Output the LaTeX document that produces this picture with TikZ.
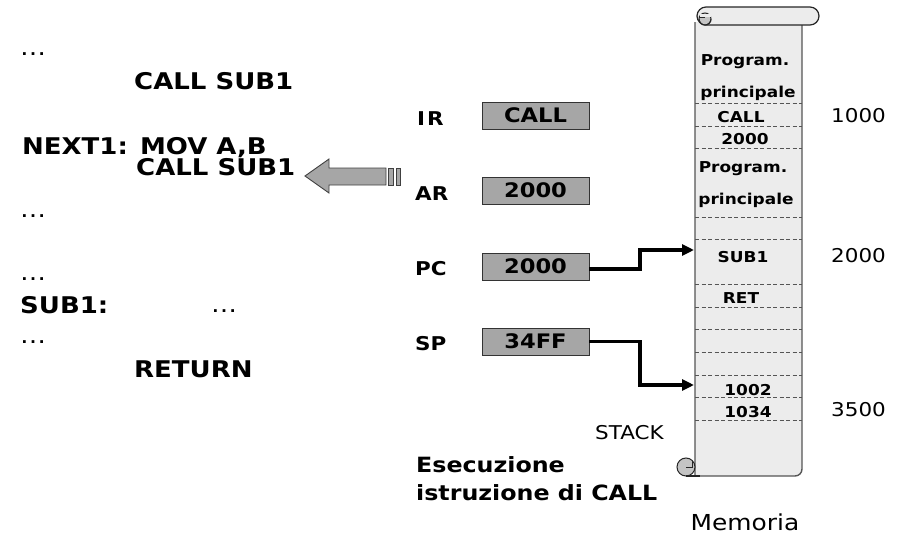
\documentclass[tikz,border=0pt]{standalone}
\usepackage{fontspec}
\setmainfont{DejaVu Sans}[FakeStretch=1.13]
\usetikzlibrary{arrows.meta}
\definecolor{regfill}{HTML}{A6A6A6}
\definecolor{scrollfill}{HTML}{ECECEC}
\definecolor{curlfill}{HTML}{C4C4C4}
\definecolor{edge}{HTML}{555555}
\tikzset{
  code/.style={font=\bfseries\fontsize{23}{23}\selectfont, anchor=base west, inner sep=0pt},
  dots/.style={font=\fontsize{23}{23}\selectfont, anchor=base west, inner sep=0pt},
  reglabel/.style={font=\bfseries\fontsize{19}{19}\selectfont, anchor=base west, inner sep=0pt},
  regbox/.style={draw=black!80, line width=0.9pt, fill=regfill, minimum width=107pt, minimum height=27pt, inner sep=0pt, font=\bfseries\fontsize{20}{20}\selectfont},
  memtext/.style={font=\bfseries\fontsize{15}{15}\selectfont, anchor=base, inner sep=0pt},
  addr/.style={font=\fontsize{19}{19}\selectfont, anchor=base west, inner sep=0pt},
  conn/.style={line width=3.3pt, -{Triangle[length=12pt,width=11pt]}},
  dline/.style={edge, line width=0.7pt, dash pattern=on 4pt off 2.5pt},
}
\begin{document}
\begin{tikzpicture}[x=1pt,y=-1pt]
\useasboundingbox (0,0) rectangle (906,538);

% ---- code listing on the left
\node[dots] (d1) at (20,56) {…};
\node[code] (c1) at (134,89) {CALL SUB1};
\node[code] (c2) at (22,154) {NEXT1: MOV A,B};
\node[code] (c3) at (136,175) {CALL SUB1};
\node[dots] (d2) at (20,217) {…};
\node[dots] (d3) at (20,280) {…};
\node[code] (c4) at (20,313) {SUB1:};
\node[dots] (d4) at (211,312) {…};
\node[dots] (d5) at (20,343) {…};
\node[code] (c5) at (134,377) {RETURN};

% ---- big grey arrow
\filldraw[fill=regfill, draw=black!75, line width=0.9pt]
  (305,176) -- (329,159) -- (329,168) -- (386,168) -- (386,185) -- (329,185) -- (329,193) -- cycle;
\filldraw[fill=regfill, draw=black!75, line width=0.9pt] (388.5,168) rectangle (393,185);
\filldraw[fill=regfill, draw=black!75, line width=0.9pt] (396,168) rectangle (400,185);

% ---- registers
\node[reglabel] (irl) at (417,125) {I\kern2pt R};
\node[reglabel] (arl) at (415,200) {AR};
\node[reglabel] (pcl) at (415,275) {PC};
\node[reglabel] (spl) at (415,350) {SP};
\node[regbox] (ir) at (535.5,115.5) {CALL};
\node[regbox] (ar) at (535.5,190.5) {2000};
\node[regbox] (pc) at (535.5,266.5) {2000};
\node[regbox] (sp) at (535.5,341.5) {34FF};

% ---- memory scroll
\filldraw[fill=scrollfill, draw=edge, line width=1.4pt]
  (695,22) -- (695,476) [rounded corners=7pt] -- (802,476) [sharp corners] -- (802,22);
\fill[scrollfill] (696,22) rectangle (801,30);
\foreach \yy in {103,126,148,217,239,284,307,329,352,375,397,420}
  \draw[dline] (695,\yy) -- (802,\yy);
% bottom curl
\filldraw[fill=curlfill, draw=black!85, line width=1pt] (686,467) circle[radius=9pt];
\draw[black!85, line width=0.9pt] (686,467) -- (692,467) -- (692,461);
\draw[black!85, line width=1.3pt] (686,476) -- (700,476);
% top roll
\filldraw[fill=scrollfill, draw=black!85, line width=1.2pt, rounded corners=9pt]
  (697,7) rectangle (819,25);
\filldraw[fill=curlfill, draw=black!85, line width=1pt] (705,19) circle[radius=6pt];
\fill[scrollfill] (699.5,13.5) rectangle (710.5,17);
\draw[black!85, line width=0.9pt] (699,17) -- (705,17);
\draw[black!85, line width=1pt] (699,19) arc[start angle=180, end angle=360, radius=6pt];

\node[memtext] (m1) at (745,65) {Program.};
\node[memtext] (m2) at (748,97) {principale};
\node[memtext] (m3) at (741,122) {CALL};
\node[memtext] (m4) at (745,144) {2000};
\node[memtext] (m5) at (743,172) {Program.};
\node[memtext] (m6) at (746,204) {principale};
\node[memtext] (m7) at (743,262) {SUB1};
\node[memtext] (m8) at (741,303) {RET};
\node[memtext] (m9) at (748,395) {1002};
\node[memtext] (m10) at (748,417) {1034};

\node[addr] (a1) at (831,122) {1000};
\node[addr] (a2) at (831,262) {2000};
\node[addr] (a3) at (831,416) {3500};
\node[font=\fontsize{22}{22}\selectfont, anchor=base, inner sep=0pt] (mem) at (745,530) {Memoria};
\node[addr] (stack) at (595,439) {STACK};
\node[font=\bfseries\fontsize{21}{21}\selectfont, anchor=base west, inner sep=0pt] (e1) at (416,472) {Esecuzione};
\node[font=\bfseries\fontsize{21}{21}\selectfont, anchor=base west, inner sep=0pt] (e2) at (416,500) {istruzione di CALL};

% ---- connectors
\coordinate (sub1in) at (694,250);
\coordinate (stackin) at (694,385);
\draw[conn] (pc.east |- 0,269) -- (640,269) |- (sub1in);
\draw[conn] (sp.east) -- (640,341.5) |- (stackin);
\end{tikzpicture}
\end{document}
